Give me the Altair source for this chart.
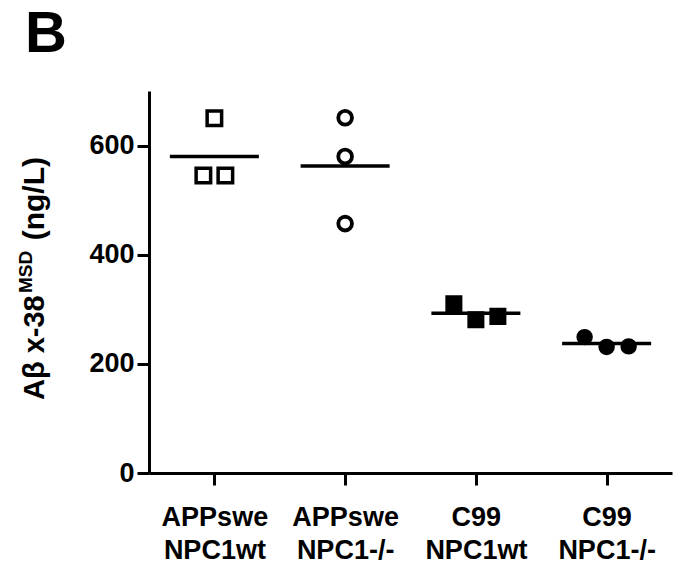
import altair as alt
import pandas as pd

# ---- data ----
groups = ["APPswe NPC1wt", "APPswe NPC1-/-", "C99 NPC1wt", "C99 NPC1-/-"]
values_app_wt = [650, 545, 545]
values_app_ko = [651, 580, 457]
values_c99_wt = [310, 281, 287]
values_c99_ko = [249, 231, 232]
# horizontal scatter slot of each point inside its group (-1 .. 1)
slots_app_wt = [0, -0.5, 0.5]
slots_app_ko = [0, 0, 0]
slots_c99_wt = [-1, 0, 1]
slots_c99_ko = [-1, 0, 1]
y_ticks = [0, 200, 400, 600]
panel_label = ["B"]
y_title_main = ["Aβ x-38"]
y_title_sup = ["MSD"]
y_title_unit = ["(ng/L)"]

# ---- styles ----
shapes = ["square", "circle", "square", "circle"]
fills = ["white", "white", "black", "black"]
sizes = [210, 143, 240, 201]
stroke_widths = [3.5, 4.5, 0, 0]
FONT = "Liberation Sans"

rows = []
for g, vals, slots in zip(groups,
                          [values_app_wt, values_app_ko, values_c99_wt, values_c99_ko],
                          [slots_app_wt, slots_app_ko, slots_c99_wt, slots_c99_ko]):
    for v, s in zip(vals, slots):
        rows.append({"group": g, "value": v, "slot": s})
df = pd.DataFrame(rows)

x_axis = alt.Axis(title=None, labelExpr="split(datum.label, ' ')")
y_axis = alt.Axis(title=None, values=y_ticks)
x_scale = alt.Scale(type="point", domain=groups, padding=0.5)
y_scale = alt.Scale(domain=[0, 700], nice=False, zero=True)

points = alt.Chart(df).mark_point(stroke="black", opacity=1, fillOpacity=1).encode(
    x=alt.X("group:N", sort=groups, scale=x_scale, axis=x_axis),
    xOffset=alt.XOffset("slot:Q", scale=alt.Scale(domain=[-1, 1], range=[-22, 22])),
    y=alt.Y("value:Q", scale=y_scale, axis=y_axis),
    shape=alt.Shape("group:N", scale=alt.Scale(domain=groups, range=shapes), legend=None),
    fill=alt.Fill("group:N", scale=alt.Scale(domain=groups, range=fills), legend=None),
    size=alt.Size("group:N", scale=alt.Scale(domain=groups, range=sizes), legend=None),
    strokeWidth=alt.StrokeWidth("group:N", scale=alt.Scale(domain=groups, range=stroke_widths), legend=None),
)

means = alt.Chart(df).mark_tick(color="black", size=89, thickness=3.5, opacity=1).encode(
    x=alt.X("group:N", sort=groups, scale=x_scale, axis=x_axis),
    y=alt.Y("mean(value):Q", scale=y_scale, axis=y_axis),
)

def label(texts, **kw):
    pos = {k: kw.pop(k) for k in ["px", "py"]}
    return alt.Chart(pd.DataFrame({"t": texts})).mark_text(
        font=FONT, fontWeight="bold", color="black", **kw
    ).encode(text="t:N", x=alt.value(pos["px"]), y=alt.value(pos["py"]))

b_label = label(panel_label, fontSize=58, align="left", baseline="alphabetic", px=-124, py=-39)
t_main = label(y_title_main, fontSize=29, angle=270, align="left", baseline="alphabetic", px=-105, py=309)
t_sup = label(y_title_sup, fontSize=19, angle=270, align="center", baseline="alphabetic", px=-117, py=181)
t_unit = label(y_title_unit, fontSize=30, angle=270, align="right", baseline="alphabetic", px=-105, py=66)

chart = alt.layer(means, points, b_label, t_main, t_sup, t_unit).properties(
    width=523, height=382,
    autosize=alt.AutoSizeParams(type="none"),
    padding={"left": 149, "top": 91, "right": 7, "bottom": 92},
    background="white",
).configure_view(stroke=None).configure_axis(
    labelFont=FONT, labelFontWeight="bold", labelColor="black",
    tickSize=12, tickWidth=3, tickColor="black",
    domainWidth=3, domainColor="black", grid=False,
).configure_axisX(
    labelAngle=0, labelAlign="center", labelBaseline="alphabetic",
    labelFontSize=27, labelLineHeight=33, labelPadding=40,
).configure_axisY(
    labelFontSize=27, labelPadding=3, labelBaseline="middle",
)

chart.save("out.html", embed_options={"renderer": "svg", "actions": False})
